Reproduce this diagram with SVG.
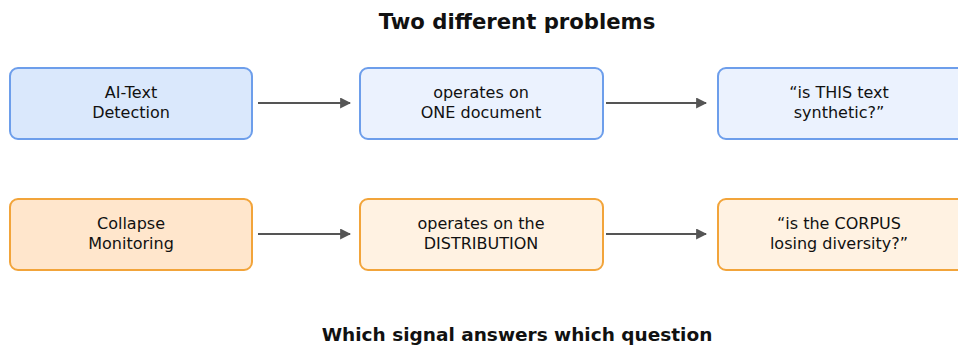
<svg xmlns="http://www.w3.org/2000/svg" width="958" height="345" viewBox="0 0 958 345">
<style>
text{font-family:"DejaVu Sans",sans-serif;fill:#111;text-anchor:middle}
.t{font-size:16px}
.h{font-size:21.2px;font-weight:bold}
.h2{font-size:18.5px;font-weight:bold}
.bA{fill:#dae8fc;stroke:#6d9eeb;stroke-width:2}
.bB{fill:#ebf2fe;stroke:#6d9eeb;stroke-width:2}
.oA{fill:#ffe6cc;stroke:#f2a43a;stroke-width:2}
.oB{fill:#fff2e2;stroke:#f2a43a;stroke-width:2}
.c{stroke:#555;stroke-width:2;fill:none;marker-end:url(#ah)}
</style>
<defs>
<marker id="ah" viewBox="0 0 10 10" refX="9" refY="5" markerWidth="5.5" markerHeight="5.5" orient="auto" markerUnits="strokeWidth">
<path d="M0,0 L10,5 L0,10 z" fill="#555"/>
</marker>
</defs>
<rect width="958" height="345" fill="#fff"/>
<text class="h" x="517" y="29">Two different problems</text>
<g id="connectors">
<line class="c" x1="258" y1="103" x2="350" y2="103"/>
<line class="c" x1="606" y1="103" x2="706" y2="103"/>
<line class="c" x1="258" y1="234" x2="350" y2="234"/>
<line class="c" x1="606" y1="234" x2="706" y2="234"/>
</g>
<g id="ai-detection">
<rect class="bA" x="10" y="68" width="242" height="71" rx="8"/>
<text class="t" x="131" y="98">AI-Text</text>
<text class="t" x="131" y="118">Detection</text>
</g>
<g id="one-document">
<rect class="bB" x="360" y="68" width="243" height="71" rx="8"/>
<text class="t" x="481" y="98">operates on</text>
<text class="t" x="481" y="118">ONE document</text>
</g>
<g id="this-text">
<rect class="bB" x="718" y="68" width="250" height="71" rx="8"/>
<text class="t" x="839" y="98">“is THIS text</text>
<text class="t" x="839" y="118">synthetic?”</text>
</g>
<g id="collapse-monitoring">
<rect class="oA" x="10" y="199" width="242" height="71" rx="8"/>
<text class="t" x="131" y="229">Collapse</text>
<text class="t" x="131" y="249">Monitoring</text>
</g>
<g id="distribution">
<rect class="oB" x="360" y="199" width="243" height="71" rx="8"/>
<text class="t" x="481" y="229">operates on the</text>
<text class="t" x="481" y="249">DISTRIBUTION</text>
</g>
<g id="corpus">
<rect class="oB" x="718" y="199" width="250" height="71" rx="8"/>
<text class="t" x="839" y="229">“is the CORPUS</text>
<text class="t" x="839" y="249">losing diversity?”</text>
</g>
<text class="h2" x="517" y="341">Which signal answers which question</text>
</svg>
